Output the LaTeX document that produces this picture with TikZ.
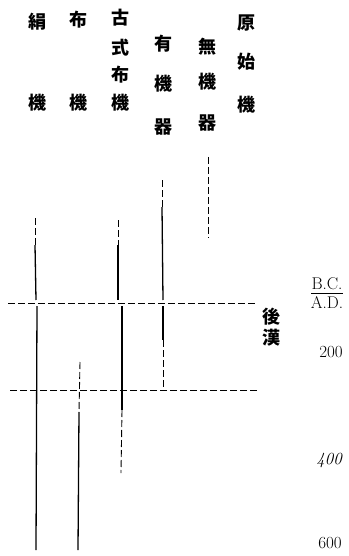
\documentclass[tikz,border=0pt]{standalone}
\usepackage{fontspec}
\newfontfamily\cjk{Noto Sans CJK JP}
\begin{document}
\begin{tikzpicture}[x=1pt,y=-1pt,
  cj/.style={font=\cjk\bfseries\fontsize{18}{18}\selectfont, inner sep=0pt},
  num/.style={font=\fontsize{17}{17}\selectfont, inner sep=0pt},
  sl/.style={line width=1.3pt},
  dl/.style={line width=0.9pt, dash pattern=on 7pt off 3pt}]
\useasboundingbox (0,0) rectangle (348,556);
% column headings
\node[cj] (a1) at (37,22) {絹};
\node[cj] (a2) at (37,103) {機};
\node[cj] (b1) at (78,20) {布};
\node[cj] (b2) at (78,103) {機};
\node[cj] (c1) at (120,18) {古};
\node[cj] (c2) at (120,48) {式};
\node[cj] (c3) at (120,75) {布};
\node[cj] (c4) at (120,103) {機};
\node[cj] (d1) at (163,44) {有};
\node[cj] (d2) at (163,84) {機};
\node[cj] (d3) at (163,127) {器};
\node[cj] (e1) at (207,47) {無};
\node[cj] (e2) at (207,82) {機};
\node[cj] (e3) at (207,123) {器};
\node[cj] (f1) at (246,23) {原};
\node[cj] (f2) at (246,62) {始};
\node[cj] (f3) at (246,105) {機};
% right labels
\node[num] (bc) at (327,284) {B.C.};
\node[num] (ad) at (327,302) {A.D.};
\draw[line width=0.7pt] ([yshift=-3pt]bc.south west) -- ([yshift=-3pt]bc.south east);
\node[cj] (h1) at (271,317) {後};
\node[cj] (h2) at (271,338) {漢};
\node[num] (n200) at (331,352) {200};
\node[num] (n400) at (329,460) {\itshape 400};
\node[num] (n600) at (330,543) {600};
% period lines
\coordinate (l1a) at (8,303);   \coordinate (l1b) at (258,303);
\coordinate (l2a) at (10,390);  \coordinate (l2b) at (257,390);
\draw[dl] (l1a) -- (l1b);
\draw[dl] (l2a) -- (l2b);
% column 1
\draw[dl] (35,218) -- (35,245);
\draw[sl] (35,245) -- (36,300);
\draw[sl] (37,306) -- (36,550);
% column 2
\draw[dl] (80,362) -- (79,412);
\draw[sl] (79,412) -- (78,550);
% column 3
\draw[dl] (118,220) -- (118,245);
\draw[sl] (118,245) -- (118,300);
\draw[sl] (122,306) -- (122,410);
\draw[dl] (122,410) -- (121,473);
% column 4
\draw[dl] (162,180) -- (162,207);
\draw[sl] (162,207) -- (163,300);
\draw[sl] (163,306) -- (163,340);
\draw[dl] (163,340) -- (163,387);
% column 5
\draw[dl] (208,157) -- (208,238);
\end{tikzpicture}
\end{document}
